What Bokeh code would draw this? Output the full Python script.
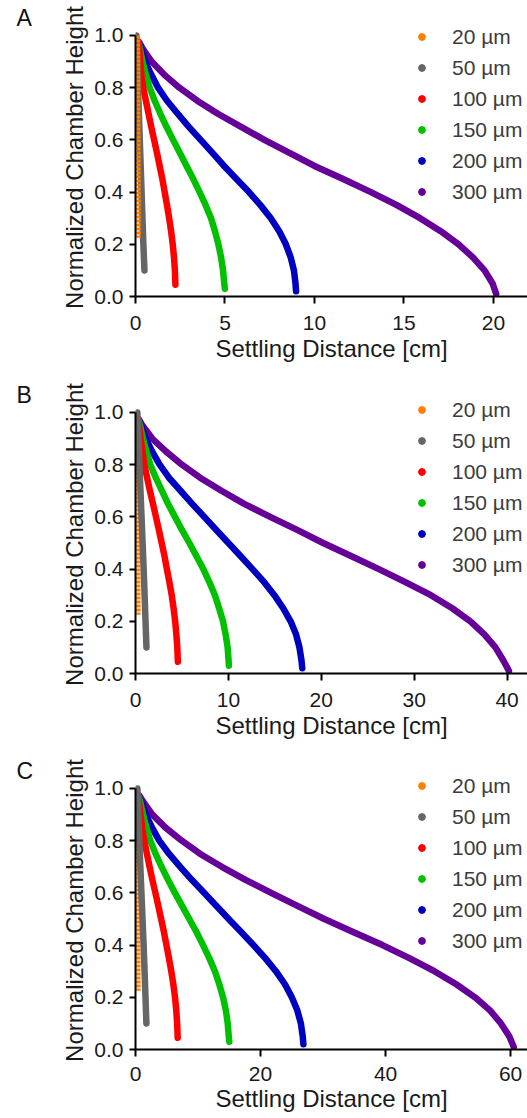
from bokeh.plotting import figure
from bokeh.models import Range1d, Legend, LegendItem, Title, FixedTicker, PrintfTickFormatter
from bokeh.layouts import column
from bokeh.embed import file_html
from bokeh.resources import INLINE

sizes = ["20 µm", "50 µm", "100 µm", "150 µm", "200 µm", "300 µm"]
colors = ["#FF8000", "#666666", "#FF0000", "#00C000", "#0000C0", "#660099"]

# normalized chamber heights at which the curves were read
y_20 = [1.0, 0.225]
y_50 = [1.0, 0.8, 0.6, 0.4, 0.2, 0.1]
y_100 = [0.975, 0.95, 0.9, 0.85, 0.8, 0.75, 0.7, 0.65, 0.6, 0.55, 0.5,
         0.45, 0.4, 0.35, 0.3, 0.25, 0.2, 0.15, 0.1, 0.045]
y_150 = [0.975, 0.95, 0.9, 0.85, 0.8, 0.75, 0.7, 0.65, 0.6, 0.55, 0.5,
         0.45, 0.4, 0.35, 0.3, 0.25, 0.2, 0.15, 0.1, 0.05, 0.03]
y_200 = [0.975, 0.95, 0.9, 0.85, 0.8, 0.75, 0.7, 0.65, 0.6, 0.55, 0.5,
         0.45, 0.4, 0.35, 0.3, 0.25, 0.2, 0.15, 0.1, 0.05, 0.02]
y_300 = [0.975, 0.95, 0.9, 0.85, 0.8, 0.75, 0.7, 0.65, 0.6, 0.55, 0.5,
         0.45, 0.4, 0.35, 0.3, 0.25, 0.2, 0.15, 0.1, 0.05, 0.01]

# Panel A settling distances [cm]
xA_20 = [0.08, 0.12]
xA_50 = [0.05, 0.14, 0.24, 0.34, 0.44, 0.5]
xA_100 = [0.13, 0.2, 0.26, 0.33, 0.43, 0.58, 0.73, 0.88, 1.04, 1.2, 1.35,
          1.5, 1.63, 1.76, 1.88, 1.99, 2.08, 2.15, 2.2, 2.23]
xA_150 = [0.13, 0.25, 0.39, 0.58, 0.79, 1.07, 1.39, 1.73, 2.1, 2.48, 2.85,
          3.23, 3.58, 3.92, 4.22, 4.44, 4.63, 4.78, 4.89, 4.96, 4.99]
xA_200 = [0.13, 0.3, 0.54, 0.88, 1.26, 1.76, 2.36, 2.98, 3.64, 4.3, 4.95,
          5.64, 6.34, 6.98, 7.56, 8.03, 8.4, 8.67, 8.85, 8.94, 8.97]
xA_300 = [0.2, 0.4, 0.9, 1.6, 2.45, 3.45, 4.6, 5.9, 7.2, 8.6, 10.0,
          11.6, 13.15, 14.6, 15.9, 17.05, 18.05, 18.85, 19.5, 19.95, 20.15]

# Panel B settling distances [cm]
xB_20 = [0.1, 0.2]
xB_50 = [0.2, 0.42, 0.65, 0.88, 1.08, 1.18]
xB_100 = [0.25, 0.38, 0.56, 0.75, 0.95, 1.25, 1.55, 1.88, 2.2, 2.52, 2.82,
          3.12, 3.38, 3.65, 3.9, 4.1, 4.27, 4.4, 4.5, 4.56]
xB_150 = [0.25, 0.5, 0.8, 1.18, 1.6, 2.18, 2.85, 3.5, 4.25, 5.0, 5.8,
          6.55, 7.3, 7.95, 8.55, 9.0, 9.42, 9.7, 9.92, 10.02, 10.05]
xB_200 = [0.25, 0.6, 1.1, 1.8, 2.6, 3.6, 4.85, 6.1, 7.4, 8.7, 10.0,
          11.3, 12.6, 13.85, 14.95, 15.9, 16.7, 17.28, 17.65, 17.87, 17.95]
xB_300 = [0.35, 0.75, 1.8, 3.3, 5.0, 6.95, 9.25, 11.7, 14.5, 17.4, 20.2,
          23.2, 26.2, 29.05, 31.8, 34.1, 36.05, 37.55, 38.75, 39.6, 40.2]

# Panel C settling distances [cm]
xC_20 = [0.15, 0.3]
xC_50 = [0.3, 0.6, 0.95, 1.3, 1.6, 1.74]
xC_100 = [0.35, 0.55, 0.8, 1.08, 1.4, 1.82, 2.25, 2.7, 3.18, 3.65, 4.1,
          4.55, 4.95, 5.35, 5.72, 6.05, 6.32, 6.52, 6.66, 6.75]
xC_150 = [0.35, 0.75, 1.2, 1.75, 2.37, 3.2, 4.17, 5.2, 6.3, 7.45, 8.6,
          9.75, 10.8, 11.8, 12.7, 13.4, 14.0, 14.45, 14.75, 14.92, 15.0]
xC_200 = [0.35, 0.9, 1.65, 2.65, 3.8, 5.35, 7.15, 9.0, 11.0, 12.95, 14.9,
          16.9, 18.85, 20.75, 22.45, 23.9, 25.0, 25.88, 26.45, 26.75, 26.85]
xC_300 = [0.55, 1.2, 2.7, 4.8, 7.4, 10.3, 13.8, 17.6, 21.7, 25.9, 30.2,
          34.8, 39.5, 43.8, 47.8, 51.3, 54.3, 56.7, 58.45, 59.8, 60.5]

ticks_A = [0, 5, 10, 15, 20]
ticks_B = [0, 10, 20, 30, 40]
ticks_C = [0, 20, 40, 60]
y_ticks = [0.0, 0.2, 0.4, 0.6, 0.8, 1.0]

ys_all = [y_20, y_50, y_100, y_150, y_200, y_300]

FONT = "Liberation Sans"


def make_panel(letter, xs_all, x_end, xticks, height, gray_on_top,
               legend_vy, tick_standoff, label_standoff):
    p = figure(width=527, height=height,
               x_range=Range1d(0, x_end), y_range=Range1d(0, 1.065),
               output_backend="svg", toolbar_location=None,
               min_border_left=135, min_border_right=0,
               min_border_top=18, min_border_bottom=height - 18 - 278)
    p.grid.visible = False
    p.outline_line_color = None

    order = [5, 4, 3, 2]
    order += [0, 1] if gray_on_top else [1, 0]
    for i in order:
        if i == 0:
            p.line(xs_all[i], ys_all[i], line_width=6.5, color=colors[i],
                   line_dash="3 1")
        else:
            p.line(xs_all[i], ys_all[i], line_width=6.5, color=colors[i],
                   line_cap="round", line_join="round")

    # legend-only markers placed far outside the visible range
    items = []
    for i in range(6):
        r = p.scatter([-1000], [-1000], size=7, color=colors[i])
        items.append(LegendItem(label=sizes[i], renderers=[r]))
    leg = Legend(items=items, location=(278, legend_vy),
                 glyph_width=17, glyph_height=17, label_height=27,
                 spacing=4, padding=0, margin=0, label_standoff=22,
                 border_line_color=None, background_fill_alpha=0,
                 label_text_font=FONT, label_text_font_size="21px",
                 label_text_color="#3c3c3c")
    p.add_layout(leg)

    for ax in (p.xaxis, p.yaxis):
        ax.axis_line_width = 2
        ax.axis_line_color = "black"
        ax.major_tick_line_width = 2
        ax.major_tick_line_color = "black"
        ax.major_tick_in = 0
        ax.minor_tick_line_color = None
        ax.major_label_text_font = FONT
        ax.major_label_text_font_size = "21px"
        ax.major_label_text_color = "#1a1a1a"
        ax.axis_label_text_font = FONT
        ax.axis_label_text_font_size = "24px"
        ax.axis_label_text_font_style = "normal"
        ax.axis_label_text_color = "#1a1a1a"

    p.xaxis.ticker = FixedTicker(ticks=xticks)
    p.xaxis.major_tick_out = 7
    p.xaxis.major_label_standoff = tick_standoff
    p.xaxis.axis_label_standoff = label_standoff
    p.xaxis.axis_label = "Settling Distance [cm]"

    p.yaxis.ticker = FixedTicker(ticks=y_ticks)
    p.yaxis.formatter = PrintfTickFormatter(format="%.1f")
    p.yaxis.bounds = (0, 1)
    p.yaxis.major_tick_out = 6
    p.yaxis.major_label_standoff = 6
    p.yaxis.axis_label_standoff = 3
    p.yaxis.axis_label = "Normalized Chamber Height"

    t = Title(text=letter, align="left", offset=-119,
              text_font=FONT, text_font_size="23px",
              text_font_style="normal", text_color="#111111")
    try:
        t.standoff = -24
    except Exception:
        t.standoff = 0
    p.title = t
    return p


pA = make_panel("A", [xA_20, xA_50, xA_100, xA_150, xA_200, xA_300],
                21.9, ticks_A, 377, False, 91, 12, 2)
pB = make_panel("B", [xB_20, xB_50, xB_100, xB_150, xB_200, xB_300],
                42.2, ticks_B, 376, True, 95, 12, 2)
pC = make_panel("C", [xC_20, xC_50, xC_100, xC_150, xC_200, xC_300],
                62.7, ticks_C, 365, True, 95, 10, 1)

layout = column(pA, pB, pC, spacing=0)
open("out.html", "w").write(file_html(layout, INLINE))
